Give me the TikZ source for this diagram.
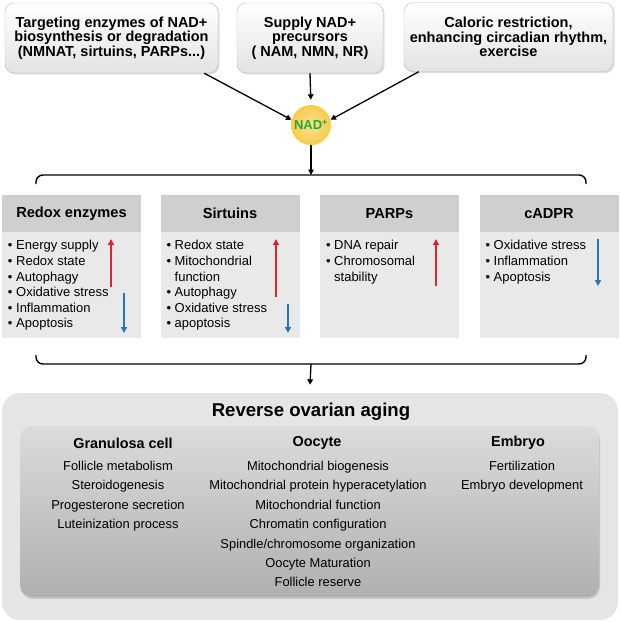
\documentclass[tikz,border=0pt]{standalone}
\usepackage{fontspec}
\setmainfont{Liberation Sans}
\usetikzlibrary{arrows.meta,positioning,shadows,calc}

\definecolor{nadyellow}{RGB}{248,204,74}
\definecolor{nadgreen}{RGB}{38,168,58}
\definecolor{upred}{RGB}{218,38,44}
\definecolor{downblue}{RGB}{38,118,188}

\tikzset{
  topbox/.style={draw=gray!55, rounded corners=9pt, top color=white, bottom color=gray!22,
    drop shadow={opacity=0.25,shadow xshift=1.5pt,shadow yshift=-1.5pt},
    align=center, inner sep=0pt, font=\fontsize{14.5}{14.6}\selectfont\bfseries},
  flow/.style={line width=1.3pt, -{Triangle[width=5.5pt,length=5.5pt]}},
  panelhead/.style={fill=gray!38, minimum width=139pt, minimum height=37pt, inner sep=0pt,
    font=\fontsize{14.6}{16}\selectfont\bfseries},
  panelbody/.style={fill=gray!17, minimum width=139pt, minimum height=106pt, inner sep=0pt},
  bullets/.style={align=left, inner sep=0pt, anchor=north west, font=\fontsize{13}{15.6}\selectfont},
  uparr/.style={upred, line width=2pt, -{Triangle[width=6pt,length=6pt]}},
  downarr/.style={downblue, line width=2pt, -{Triangle[width=6pt,length=6pt]}},
  colhead/.style={font=\fontsize{14.4}{16}\selectfont\bfseries, inner sep=0pt},
  collist/.style={align=center, inner sep=0pt, anchor=north, font=\fontsize{12.9}{19.4}\selectfont}
}

\begin{document}
\begin{tikzpicture}[x=1pt,y=-1pt]
  \useasboundingbox (0,0) rectangle (621,622);

  % sources of NAD+
  \node[topbox, minimum width=213pt, minimum height=70pt] (target) at (111.5,38)
    {Targeting enzymes of NAD+\\biosynthesis or degradation\\(NMNAT, sirtuins, PARPs...)};
  \node[topbox, minimum width=146pt, minimum height=70pt] (supply) at (310,38)
    {Supply NAD+\\precursors\\( NAM, NMN, NR)};
  \node[topbox, minimum width=209pt, minimum height=69pt] (caloric) at (508.5,37)
    {Caloric restriction,\\enhancing circadian rhythm,\\exercise};

  \node[circle, minimum size=40pt, inner sep=0pt, inner color=nadyellow!60, outer color=nadyellow]
    (nad) at (311,125) {\fontsize{13}{14}\selectfont\bfseries\textcolor{nadgreen}{NAD\textsuperscript{+}}};

  \draw[flow] ([xshift=-14pt]target.south east) -- (nad.165);
  \draw[flow, shorten >=5pt] (supply.south) -- (nad.north);
  \draw[flow] ([xshift=15pt]caloric.south west) -- (nad.15);

  % upper brace
  \coordinate (brace1) at (311,175);
  \draw[line width=1.4pt, rounded corners=7pt] (36,184) -- (36,175) -- (586,175) -- (586,184);
  \draw[flow] (nad.south) -- (brace1);

  % effector panels
  \foreach \n/\cx/\t in {redox/71.5/Redox enzymes, sirt/230/Sirtuins, parp/389.5/PARPs, cadpr/549/cADPR} {
    \node[panelhead] (\n-h) at (\cx,213.5) {\t};
    \node[panelbody, below=0pt of \n-h] (\n-b) {};
  }

  \node[bullets] at ($(redox-b.north west)+(6,8)$)
    {\textbullet\ Energy supply\\\textbullet\ Redox state\\\textbullet\ Autophagy\\
     \textbullet\ Oxidative stress\\\textbullet\ Inflammation\\\textbullet\ Apoptosis};
  \node[bullets] at ($(sirt-b.north west)+(6,8)$)
    {\textbullet\ Redox state\\\textbullet\ Mitochondrial\\\hphantom{\textbullet\ }function\\
     \textbullet\ Autophagy\\\textbullet\ Oxidative stress\\\textbullet\ apoptosis};
  \node[bullets] at ($(parp-b.north west)+(6,8)$)
    {\textbullet\ DNA repair\\\textbullet\ Chromosomal\\\hphantom{\textbullet\ }stability};
  \node[bullets] at ($(cadpr-b.north west)+(6,8)$)
    {\textbullet\ Oxidative stress\\\textbullet\ Inflammation\\\textbullet\ Apoptosis};

  \draw[uparr] (111,287) -- (111,239);
  \draw[downarr] (124,293) -- (124,333);
  \draw[uparr] (276,297) -- (276,239);
  \draw[downarr] (288,304) -- (288,333);
  \draw[uparr] (436,286) -- (436,239);
  \draw[downarr] (598,239) -- (598,286);

  % lower brace
  \coordinate (brace2) at (311,364);
  \draw[line width=1.4pt, rounded corners=7pt] (36,355) -- (36,364) -- (586,364) -- (586,355);

  % outcome
  \node[fill=gray!20, rounded corners=18pt, minimum width=616pt, minimum height=227pt, inner sep=0pt]
    (outer) at (310,506.5) {};
  \draw[flow] (brace2) -- ([yshift=8pt]outer.north);
  \node[font=\fontsize{18.6}{20}\selectfont\bfseries, inner sep=0pt] (title) at (311,412) {Reverse ovarian aging};
  \node[rounded corners=12pt, top color=gray!28, bottom color=gray!62, minimum width=579pt, minimum height=171pt,
    inner sep=0pt, drop shadow={opacity=0.3,shadow xshift=1pt,shadow yshift=-2pt}] (inner) at (309.5,511.5) {};

  \node[colhead] (gran) at (123,443) {Granulosa cell};
  \node[colhead] (oocyte) at (317,443) {Oocyte};
  \node[colhead] (embryo) at (518,443) {Embryo};

  \node[collist] at (118,461)
    {Follicle metabolism\\Steroidogenesis\\Progesterone secretion\\Luteinization process};
  \node[collist] at (318,461)
    {Mitochondrial biogenesis\\Mitochondrial protein hyperacetylation\\Mitochondrial function\\
     Chromatin configuration\\Spindle/chromosome organization\\Oocyte Maturation\\Follicle reserve};
  \node[collist] at (522,461)
    {Fertilization\\Embryo development};
\end{tikzpicture}
\end{document}
